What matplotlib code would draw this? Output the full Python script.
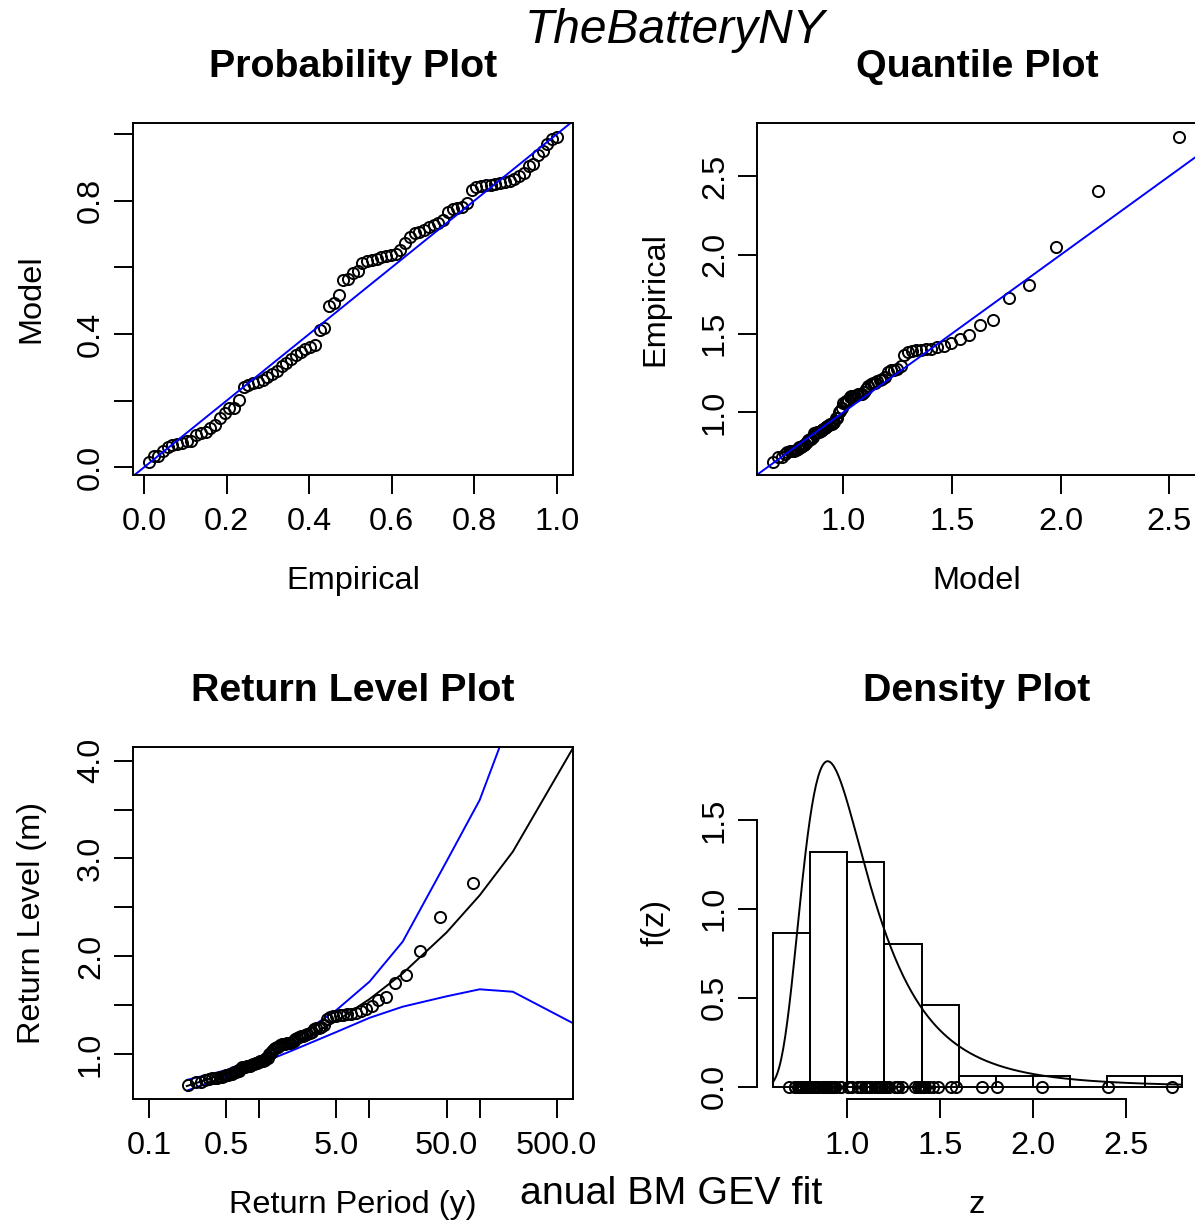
import numpy as np
import matplotlib.pyplot as plt
from matplotlib.ticker import NullLocator

plt.rcParams['font.family'] = ['Liberation Sans', 'DejaVu Sans']

W, H = 1195, 1220

annual_max = [
    0.684, 0.717, 0.719, 0.736, 0.748, 0.753, 0.756, 0.757, 0.762, 0.764,
    0.777, 0.781, 0.785, 0.792, 0.798, 0.812, 0.821, 0.830, 0.831, 0.844,
    0.866, 0.870, 0.872, 0.875, 0.878, 0.882, 0.888, 0.893, 0.900, 0.906,
    0.912, 0.919, 0.924, 0.928, 0.932, 0.936, 0.961, 0.964, 1.005, 1.010,
    1.026, 1.056, 1.059, 1.072, 1.076, 1.097, 1.101, 1.103, 1.105, 1.110,
    1.114, 1.116, 1.118, 1.130, 1.150, 1.165, 1.178, 1.183, 1.188, 1.197,
    1.205, 1.211, 1.223, 1.256, 1.266, 1.270, 1.274, 1.295, 1.363, 1.383,
    1.390, 1.394, 1.397, 1.399, 1.405, 1.412, 1.420, 1.438, 1.463, 1.488,
    1.557, 1.585, 1.726, 1.806, 2.050, 2.405, 2.750,
]

# fitted GEV parameters
gev_loc = 0.936
gev_scale = 0.206
gev_shape = 0.23

hist_breaks = [0.6, 0.8, 1.0, 1.2, 1.4, 1.6, 1.8, 2.0, 2.2, 2.4, 2.6, 2.8]

# return level confidence band (m)
rl_period = [0.22, 0.5, 1, 2, 5, 10, 20, 50, 100, 200, 1000]
rl_lower = [0.625, 0.774, 0.899, 1.037, 1.225, 1.370, 1.484, 1.590, 1.662, 1.637, 1.225]
rl_upper = [0.735, 0.834, 0.973, 1.145, 1.449, 1.740, 2.149, 2.970, 3.598, 4.500, 7.630]

pp_ticks = [0.0, 0.2, 0.4, 0.6, 0.8, 1.0]
pp_xlabels = ["0.0", "0.2", "0.4", "0.6", "0.8", "1.0"]
pp_ylabels = ["0.0", "", "0.4", "", "0.8", ""]
qq_ticks = [1.0, 1.5, 2.0, 2.5]
qq_labels = ["1.0", "1.5", "2.0", "2.5"]
rl_xticks = [0.1, 0.5, 1, 5, 10, 50, 100, 500]
rl_xlabels = ["0.1", "0.5", "", "5.0", "", "50.0", "", "500.0"]
rl_yticks = [1.0, 1.5, 2.0, 2.5, 3.0, 3.5, 4.0]
rl_ylabels = ["1.0", "", "2.0", "", "3.0", "", "4.0"]
den_xticks = [1.0, 1.5, 2.0, 2.5]
den_xlabels = ["1.0", "1.5", "2.0", "2.5"]
den_yticks = [0.0, 0.5, 1.0, 1.5]
den_ylabels = ["0.0", "0.5", "1.0", "1.5"]

BASE = 23.4
MAIN = 28.4
OUTER = 34.5
LW = 1.4
MS = 8.0


def gev_cdf(z):
    t = (1 + gev_shape * (z - gev_loc) / gev_scale) ** (-1 / gev_shape)
    return np.exp(-t)


def gev_ppf(p):
    return gev_loc + gev_scale / gev_shape * ((-np.log(p)) ** (-gev_shape) - 1)


def gev_pdf(z):
    t = (1 + gev_shape * (z - gev_loc) / gev_scale) ** (-1 / gev_shape)
    return t ** (gev_shape + 1) * np.exp(-t) / gev_scale


def fx(x):
    return x / W


def fy(y):
    return 1 - y / H


def add_panel(left, top, right, bottom):
    ax = fig.add_axes([fx(left), fy(bottom), (right - left) / W, (bottom - top) / H])
    for s in ax.spines.values():
        s.set_linewidth(LW)
    ax.tick_params(direction='out', length=13.8, width=LW, labelsize=BASE)
    ax.tick_params(axis='x', pad=9)
    ax.tick_params(axis='y', pad=5.5)
    return ax


def titles(box, main, xlab, ylab):
    left, top, right, bottom = box
    cx = (left + right) / 2
    cy = (top + bottom) / 2
    fig.text(fx(cx), fy(top - 46), main, ha='center', va='baseline',
             fontsize=MAIN, fontweight='bold')
    fig.text(fx(cx), fy(bottom + 114), xlab, ha='center', va='baseline', fontsize=BASE)
    fig.text(fx(left - 93), fy(cy), ylab, rotation=90, rotation_mode='anchor',
             ha='center', va='baseline', fontsize=BASE)


z = np.sort(np.array(annual_max))
n = len(z)
idx = np.arange(1, n + 1)
p_emp = idx / (n + 1)

fig = plt.figure(figsize=(W / 100, H / 100), dpi=100)

circ = dict(linestyle='none', marker='o', markersize=MS, markerfacecolor='none',
            markeredgecolor='black', markeredgewidth=LW)

# probability plot
box_pp = (132.7, 123.3, 573.3, 475)
ax = add_panel(*box_pp)
ax.plot(idx / n, gev_cdf(z), **circ)
ax.axline((0, 0), slope=1, color='blue', lw=LW)
ax.set_xlim(-0.0274, 1.0395)
ax.set_ylim(-0.0231, 1.0321)
ax.set_xticks(pp_ticks, pp_xlabels)
ax.set_yticks(pp_ticks, pp_ylabels, rotation=90, va='center')
titles(box_pp, "Probability Plot", "Empirical", "Model")

# quantile plot
box_qq = (756.7, 123.3, 1197, 475)
ax = add_panel(*box_qq)
ax.plot(gev_ppf(p_emp), z, **circ)
ax.axline((1, 1), slope=1, color='blue', lw=LW)
ax.set_xlim(0.6015, 2.628)
ax.set_ylim(0.6017, 2.836)
ax.set_xticks(qq_ticks, qq_labels)
ax.set_yticks(qq_ticks, qq_labels, rotation=90, va='center')
titles(box_qq, "Quantile Plot", "Model", "Empirical")

# return level plot
box_rl = (132.7, 746.7, 573.3, 1099.3)
ax = add_panel(*box_rl)
ax.set_xscale('log')
T = np.array(rl_period, dtype=float)
ax.plot(T, gev_ppf(np.exp(-1 / T)), color='black', lw=LW)
ax.plot(T, rl_lower, color='blue', lw=LW)
ax.plot(T, rl_upper, color='blue', lw=LW)
ax.plot(-1 / np.log(p_emp), z, **circ)
ax.set_xlim(0.07099, 707.0)
ax.set_ylim(0.537, 4.143)
ax.set_xticks(rl_xticks, rl_xlabels)
ax.xaxis.set_minor_locator(NullLocator())
ax.set_yticks(rl_yticks, rl_ylabels, rotation=90, va='center')
titles(box_rl, "Return Level Plot", "Return Period (y)", "Return Level (m)")

# density plot
box_den = (756.7, 746.7, 1197, 1099.3)
ax = add_panel(*box_den)
ax.hist(z, bins=hist_breaks, density=True, fill=False, edgecolor='black', lw=LW)
zz = np.linspace(hist_breaks[0], hist_breaks[-1], 400)
ax.plot(zz, gev_pdf(zz), color='black', lw=LW)
ax.plot(z, np.zeros(n), clip_on=False, **circ)
ax.set_xlim(0.5124, 2.882)
ax.set_ylim(-0.0709, 1.912)
ax.spines['top'].set_visible(False)
ax.spines['right'].set_visible(False)
ax.spines['left'].set_bounds(den_yticks[0], den_yticks[-1])
ax.spines['bottom'].set_bounds(den_xticks[0], den_xticks[-1])
ax.set_xticks(den_xticks, den_xlabels)
ax.set_yticks(den_yticks, den_ylabels, rotation=90, va='center')
titles(box_den, "Density Plot", "z", "f(z)")

fig.text(fx(675), fy(43), "TheBatteryNY", ha='center', va='baseline',
         fontsize=OUTER, fontstyle='italic')
fig.text(fx(671), fy(1204), "anual BM GEV fit", ha='center', va='baseline', fontsize=MAIN)

fig.savefig("out.png", dpi=100)
